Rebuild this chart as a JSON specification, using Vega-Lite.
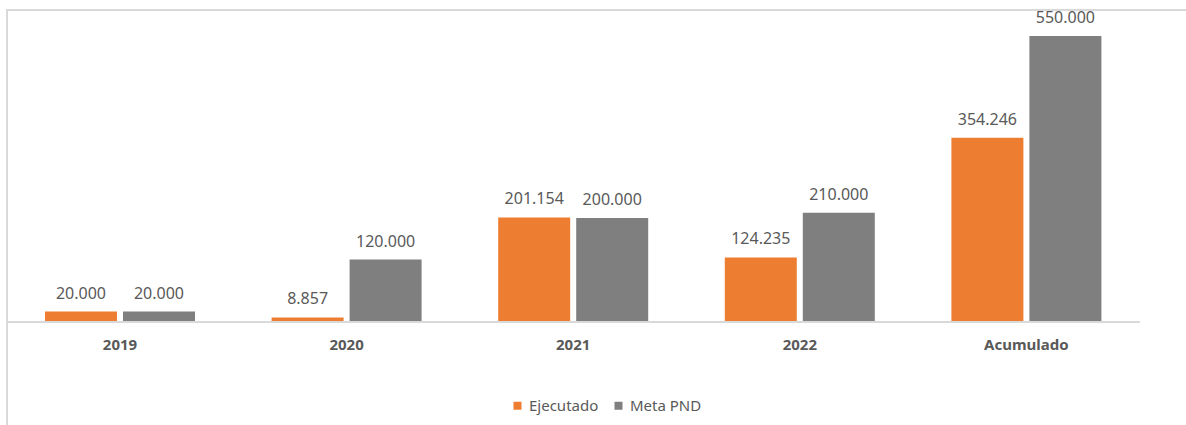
{
  "$schema": "https://vega.github.io/schema/vega-lite/v6.json",
  "autosize": "none",
  "padding": {"left": 7, "top": 10, "right": 0, "bottom": 0},
  "width": 1182,
  "height": 420,
  "background": "white",
  "config": {
    "view": {"stroke": "#D9D9D9", "strokeWidth": 2},
    "font": "Noto Sans"
  },
  "data": {
    "values": [
      {"categoria": "2019", "serie": "Ejecutado", "valor": 20000, "etiqueta": "20.000"},
      {"categoria": "2019", "serie": "Meta PND", "valor": 20000, "etiqueta": "20.000"},
      {"categoria": "2020", "serie": "Ejecutado", "valor": 8857, "etiqueta": "8.857"},
      {"categoria": "2020", "serie": "Meta PND", "valor": 120000, "etiqueta": "120.000"},
      {"categoria": "2021", "serie": "Ejecutado", "valor": 201154, "etiqueta": "201.154"},
      {"categoria": "2021", "serie": "Meta PND", "valor": 200000, "etiqueta": "200.000"},
      {"categoria": "2022", "serie": "Ejecutado", "valor": 124235, "etiqueta": "124.235"},
      {"categoria": "2022", "serie": "Meta PND", "valor": 210000, "etiqueta": "210.000"},
      {"categoria": "Acumulado", "serie": "Ejecutado", "valor": 354246, "etiqueta": "354.246"},
      {"categoria": "Acumulado", "serie": "Meta PND", "valor": 550000, "etiqueta": "550.000"}
    ]
  },
  "layer": [
    {
      "mark": {"type": "bar"},
      "encoding": {
        "x": {
          "field": "categoria",
          "type": "nominal",
          "sort": ["2019", "2020", "2021", "2022", "Acumulado"],
          "scale": {"paddingInner": 0.338, "paddingOuter": 0.2771, "align": 0.3025},
          "axis": {
            "title": null,
            "orient": "bottom",
            "offset": -108,
            "domain": false,
            "ticks": false,
            "tickSize": 0,
            "grid": false,
            "labelAngle": 0,
            "labelPadding": 22,
            "labelBaseline": "middle",
            "labelFont": "Noto Sans",
            "labelFontSize": 15,
            "labelFontWeight": "bold",
            "labelColor": "#595959"
          }
        },
        "xOffset": {
          "field": "serie",
          "type": "nominal",
          "sort": ["Ejecutado", "Meta PND"],
          "scale": {"paddingInner": 0.077, "paddingOuter": 0}
        },
        "y": {
          "field": "valor",
          "type": "quantitative",
          "scale": {"domain": [-207692, 600000], "nice": false, "zero": false},
          "axis": null
        },
        "y2": {"datum": 0},
        "color": {
          "field": "serie",
          "type": "nominal",
          "sort": ["Ejecutado", "Meta PND"],
          "scale": {"domain": ["Ejecutado", "Meta PND"], "range": ["#ED7D31", "#7F7F7F"]},
          "legend": {
            "title": null,
            "orient": "none",
            "direction": "horizontal",
            "legendX": 503,
            "legendY": 388,
            "padding": 0,
            "symbolType": "square",
            "symbolSize": 64,
            "symbolStrokeWidth": 0,
            "labelFont": "Noto Sans",
            "labelFontSize": 15,
            "labelColor": "#595959",
            "labelOffset": 4,
            "columnPadding": 12
          }
        }
      }
    },
    {
      "mark": {"type": "text", "baseline": "alphabetic", "dy": -13, "font": "Noto Sans", "fontSize": 16, "color": "#595959"},
      "encoding": {
        "x": {"field": "categoria", "type": "nominal", "sort": ["2019", "2020", "2021", "2022", "Acumulado"]},
        "xOffset": {"field": "serie", "type": "nominal", "sort": ["Ejecutado", "Meta PND"]},
        "y": {"field": "valor", "type": "quantitative"},
        "text": {"field": "etiqueta", "type": "nominal"}
      }
    },
    {
      "mark": {"type": "rule", "color": "#D9D9D9", "strokeWidth": 2},
      "encoding": {
        "x": {"datum": "2019", "bandPosition": -0.2533},
        "x2": {"datum": "Acumulado", "bandPosition": 1.2533},
        "y": {"datum": 0, "type": "quantitative"}
      }
    }
  ]
}
